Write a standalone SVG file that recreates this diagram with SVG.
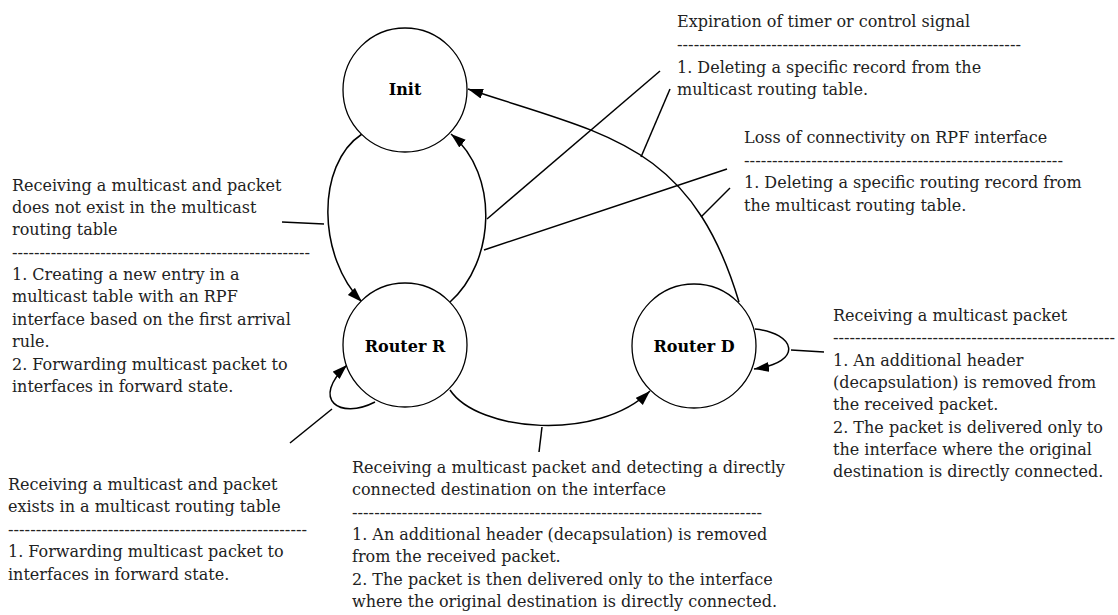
<svg xmlns="http://www.w3.org/2000/svg" width="1118" height="615" viewBox="0 0 1118 615">
<style>
.n{fill:#fff;stroke:#000;stroke-width:1.3}
.nl{font-family:"DejaVu Serif","Liberation Serif",serif;font-size:16px;font-weight:bold;text-anchor:middle;fill:#000}
.t{font-family:"DejaVu Serif","Liberation Serif",serif;font-size:16px;fill:#222}
.e{fill:none;stroke:#000;stroke-width:1.5}
.a{fill:none;stroke:#000;stroke-width:1.5;marker-end:url(#ah)}
</style>
<defs>
<marker id="ah" markerUnits="userSpaceOnUse" markerWidth="16" markerHeight="12" refX="15" refY="5" orient="auto">
<path d="M0,0 L15,5 L0,10 z" fill="#000"/>
</marker>
</defs>
<g id="connectors">
<path class="a" d="M362,134 C315,165 318,258 362,302"/>
<path class="a" d="M450,302 C495,262 500,175 451,134"/>
<path class="a" d="M739,302 C691,142 605,135 468,89"/>
<path class="a" d="M450,390 C478,432 598,442 650,391"/>
<path class="a" d="M375,402 C340,420 310,400 347,365"/>
<path class="a" d="M755,329 C795,333 805,362 754,369"/>
<path class="e" d="M282,222 L324,224"/>
<path class="e" d="M487,219 L660,71"/>
<path class="e" d="M641,157 L670,89"/>
<path class="e" d="M484,250 L727,169"/>
<path class="e" d="M701,217 L730,188"/>
<path class="e" d="M791,350 L824,352"/>
<path class="e" d="M290,443 L332,409"/>
<path class="e" d="M542,427 L539,452"/>
</g>
<g id="node-init">
<circle class="n" cx="405" cy="90" r="62"/>
<text class="nl" x="405" y="95">Init</text>
</g>
<g id="node-router-r">
<circle class="n" cx="405" cy="345" r="62"/>
<text class="nl" x="405" y="352">Router R</text>
</g>
<g id="node-router-d">
<circle class="n" cx="694" cy="346" r="62"/>
<text class="nl" x="694" y="352">Router D</text>
</g>
<g id="label-expiration">
<text class="t" x="677" y="27">Expiration of timer or control signal</text>
<text class="t" x="677" y="50" textLength="344" lengthAdjust="spacingAndGlyphs">--------------------------------------------------------------</text>
<text class="t" x="677" y="73">1. Deleting a specific record from the</text>
<text class="t" x="677" y="95">multicast routing table.</text>
</g>
<g id="label-loss">
<text class="t" x="744" y="143">Loss of connectivity on RPF interface</text>
<text class="t" x="744" y="166" textLength="319" lengthAdjust="spacingAndGlyphs">---------------------------------------------------------</text>
<text class="t" x="744" y="188">1. Deleting a specific routing record from</text>
<text class="t" x="744" y="211">the multicast routing table.</text>
</g>
<g id="label-not-exist">
<text class="t" x="12" y="191">Receiving a multicast and packet</text>
<text class="t" x="12" y="213">does not exist in the multicast</text>
<text class="t" x="12" y="235">routing table</text>
<text class="t" x="12" y="258" textLength="298" lengthAdjust="spacingAndGlyphs">------------------------------------------------------</text>
<text class="t" x="12" y="280">1. Creating a new entry in a</text>
<text class="t" x="12" y="302">multicast table with an RPF</text>
<text class="t" x="12" y="325">interface based on the first arrival</text>
<text class="t" x="12" y="347">rule.</text>
<text class="t" x="12" y="370">2. Forwarding multicast packet to</text>
<text class="t" x="12" y="392">interfaces in forward state.</text>
</g>
<g id="label-exists">
<text class="t" x="8" y="490">Receiving a multicast and packet</text>
<text class="t" x="8" y="512">exists in a multicast routing table</text>
<text class="t" x="8" y="535" textLength="299" lengthAdjust="spacingAndGlyphs">------------------------------------------------------</text>
<text class="t" x="8" y="557">1. Forwarding multicast packet to</text>
<text class="t" x="8" y="580">interfaces in forward state.</text>
</g>
<g id="label-direct">
<text class="t" x="352" y="473">Receiving a multicast packet and detecting a directly</text>
<text class="t" x="352" y="495">connected destination on the interface</text>
<text class="t" x="352" y="518" textLength="410" lengthAdjust="spacingAndGlyphs">--------------------------------------------------------------------------</text>
<text class="t" x="352" y="540">1. An additional header (decapsulation) is removed</text>
<text class="t" x="352" y="562">from the received packet.</text>
<text class="t" x="352" y="585">2. The packet is then delivered only to the interface</text>
<text class="t" x="352" y="607">where the original destination is directly connected.</text>
</g>
<g id="label-router-d">
<text class="t" x="833" y="321">Receiving a multicast packet</text>
<text class="t" x="833" y="343" textLength="282" lengthAdjust="spacingAndGlyphs">---------------------------------------------------</text>
<text class="t" x="833" y="366">1. An additional header</text>
<text class="t" x="833" y="388">(decapsulation) is removed from</text>
<text class="t" x="833" y="410">the received packet.</text>
<text class="t" x="833" y="433">2. The packet is delivered only to</text>
<text class="t" x="833" y="455">the interface where the original</text>
<text class="t" x="833" y="477">destination is directly connected.</text>
</g>
</svg>
